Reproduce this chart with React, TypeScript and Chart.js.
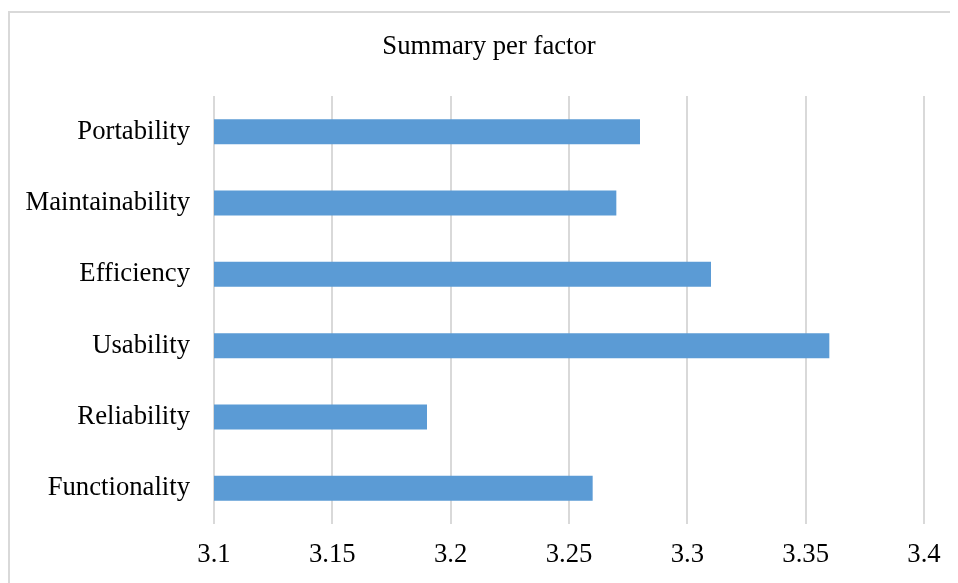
import React, { useEffect, useRef } from "react";
import { Chart, registerables } from "chart.js";

Chart.register(...registerables);

const categories = ["Portability", "Maintainability", "Efficiency", "Usability", "Reliability", "Functionality"];
const values = [3.28, 3.27, 3.31, 3.36, 3.19, 3.26];
const xMin = 3.1;
const xMax = 3.4;
const xStep = 0.05;
const titleText = "Summary per factor";

const FONT = "'Liberation Serif', 'Times New Roman', serif";
const FSIZE = 26.7;

const framePlugin = {
  id: "frame",
  beforeDraw(chart: any) {
    const ctx = chart.ctx;
    ctx.save();
    ctx.strokeStyle = "#d9d9d9";
    ctx.lineWidth = 2;
    ctx.beginPath();
    ctx.moveTo(1, chart.height);
    ctx.lineTo(1, 4);
    ctx.lineTo(chart.width, 4);
    ctx.stroke();
    ctx.restore();
  },
  afterDraw(chart: any) {
    const ctx = chart.ctx;
    ctx.save();
    ctx.fillStyle = "#000";
    ctx.font = `${FSIZE}px ${FONT}`;
    ctx.textAlign = "center";
    ctx.textBaseline = "middle";
    ctx.fillText(titleText, 481, 39);
    ctx.restore();
  },
};

export default function App() {
  const ref = useRef<HTMLCanvasElement | null>(null);
  useEffect(() => {
    if (!ref.current) return;
    const chart = new Chart(ref.current, {
      type: "bar",
      data: {
        labels: categories,
        datasets: [
          {
            data: values,
            backgroundColor: "#5b9bd5",
            borderWidth: 0,
            barPercentage: 0.35,
            categoryPercentage: 1,
          },
        ],
      },
      options: {
        indexAxis: "y",
        animation: false,
        responsive: true,
        maintainAspectRatio: false,
        layout: { padding: { left: 0, right: 34, top: 88, bottom: 0 } },
        plugins: {
          legend: { display: false },
          tooltip: { enabled: false },
          title: { display: false },
        },
        scales: {
          x: {
            min: xMin,
            max: xMax,
            border: { display: false },
            grid: { color: "#d9d9d9", lineWidth: 2, drawTicks: false },
            ticks: {
              stepSize: xStep,
              color: "#000",
              padding: 15,
              font: { family: FONT, size: FSIZE },
              callback: (v: any) => String(Number(Number(v).toFixed(2))),
            },
            afterFit: (scale: any) => {
              scale.height = 59;
            },
          },
          y: {
            border: { display: false },
            grid: { display: false, drawTicks: false },
            ticks: {
              color: "#000",
              padding: 24,
              font: { family: FONT, size: FSIZE },
              autoSkip: false,
            },
            afterFit: (scale: any) => {
              scale.width = 206;
            },
          },
        },
      },
      plugins: [framePlugin],
    });
    return () => chart.destroy();
  }, []);
  return (
    <div style={{ width: 950, height: 575, position: "relative" }}>
      <canvas ref={ref} />
    </div>
  );
}
